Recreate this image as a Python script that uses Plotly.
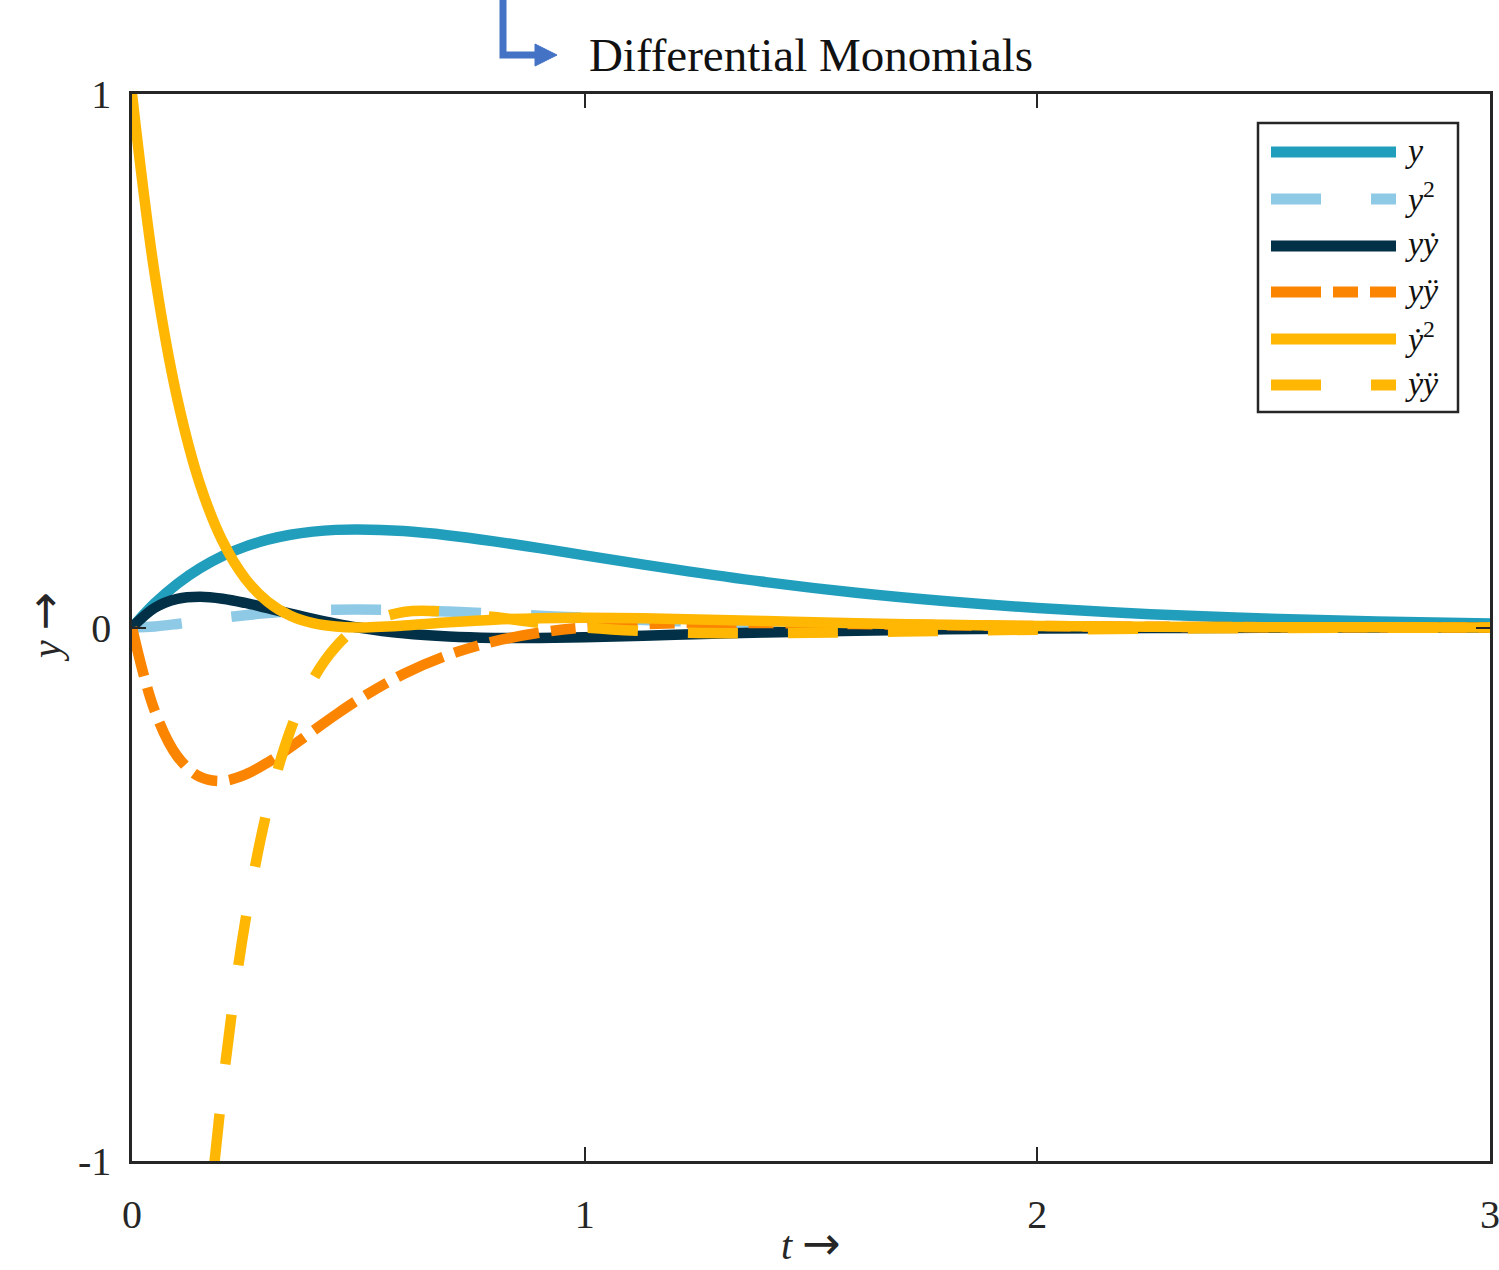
import plotly.graph_objects as go

# ---- data ----
t = [0, 0.05, 0.1, 0.15, 0.2, 0.25, 0.3, 0.35, 0.4, 0.45, 0.5, 0.6, 0.7, 0.8, 0.9,
     1.0, 1.2, 1.4, 1.6, 1.8, 2.0, 2.25, 2.5, 2.75, 3.0]

y_vals = [0, 0.0452, 0.0819, 0.1111, 0.1341, 0.1516, 0.1646, 0.1738, 0.1797, 0.1830,
          0.1839, 0.1807, 0.1726, 0.1615, 0.1488, 0.1353, 0.1089, 0.0851, 0.0652,
          0.0492, 0.0366, 0.0250, 0.0168, 0.0112, 0.0074]

y2_vals = [0, 0.0020, 0.0067, 0.0123, 0.0180, 0.0230, 0.0271, 0.0302, 0.0323, 0.0335,
           0.0338, 0.0327, 0.0298, 0.0261, 0.0221, 0.0183, 0.0119, 0.0072, 0.0043,
           0.0024, 0.0013, 0.0006, 0.0003, 0.0001, 0.0001]

yyd_vals = [0, 0.0368, 0.0536, 0.0576, 0.0539, 0.0460, 0.0361, 0.0259, 0.0162, 0.0074,
            0, -0.0109, -0.0170, -0.0196, -0.0197, -0.0183, -0.0138, -0.0093, -0.0059,
            -0.0035, -0.0020, -0.0010, -0.0005, -0.0002, -0.0001]

yydd_vals = [0, -0.1556, -0.2413, -0.2799, -0.2876, -0.2759, -0.2530, -0.2244, -0.1938,
             -0.1636, -0.1353, -0.0871, -0.0511, -0.0261, -0.0098, 0, 0.0079, 0.0083,
             0.0064, 0.0043, 0.0027, 0.0014, 0.0007, 0.0003, 0.0001]

yd2_vals = [1.0, 0.6632, 0.4290, 0.2689, 0.1618, 0.0920, 0.0482, 0.0222, 0.0081, 0.0017,
            0, 0.0036, 0.0097, 0.0147, 0.0175, 0.0183, 0.0161, 0.0120, 0.0080, 0.0051,
            0.0030, 0.0015, 0.0007, 0.0003, 0.0002]

ydydd_vals = [-4.0, -2.8001, -1.9305, -1.3062, -0.8627, -0.5518, -0.3373, -0.1923, -0.0969,
              -0.0364, 0, 0.0290, 0.0292, 0.0196, 0.0087, 0, -0.0092, -0.0107, -0.0088,
              -0.0062, -0.0040, -0.0022, -0.0011, -0.0005, -0.0002]

series_names = ["<i>y</i>", "<i>y</i><sup>2</sup>", "<i>yẏ</i>", "<i>yÿ</i>",
                "<i>ẏ</i><sup>2</sup>", "<i>ẏÿ</i>"]
series_data = [y_vals, y2_vals, yyd_vals, yydd_vals, yd2_vals, ydydd_vals]
colors = ["#219EBC", "#8ECAE6", "#023047", "#FB8500", "#FFB703", "#FFB703"]
dashes = ["solid", "50px,50px", "solid", "50px,12px,25px,12px", "solid", "50px,50px"]

x_ticks = [0, 1, 2, 3]
y_ticks = [-1, 0, 1]
y_ticktext = ["-1", "0", "1"]

FONT = "Liberation Serif, DejaVu Serif, serif"
W, H = 1499, 1270
ML, MR, MT, MB = 132, 9, 94, 109
PW, PH = W - ML - MR, H - MT - MB


def px(xp):
    return (xp - ML) / PW


def py(yp):
    return (H - MB - yp) / PH


fig = go.Figure()
for name, vals, c, d in zip(series_names, series_data, colors, dashes):
    fig.add_trace(go.Scatter(x=t, y=vals, mode="lines", name=name,
                             line=dict(color=c, width=10.5, dash=d, shape="spline"),
                             showlegend=False))

shapes = []
annotations = []

# custom legend (long line samples like the reference)
shapes.append(dict(type="rect", xref="paper", yref="paper",
                   x0=px(1258), x1=px(1458), y0=py(412), y1=py(123),
                   line=dict(color="#262626", width=2.5), fillcolor="white", layer="above"))
rows = [152, 199, 246, 292, 339, 385]
for name, c, d, r in zip(series_names, colors, dashes, rows):
    shapes.append(dict(type="line", xref="paper", yref="paper",
                       x0=px(1271), x1=px(1396), y0=py(r), y1=py(r),
                       line=dict(color=c, width=11, dash=d), layer="above"))
    annotations.append(dict(xref="paper", yref="paper", x=px(1403), y=py(r - 2),
                            xanchor="left", yanchor="middle", showarrow=False,
                            text=name, font=dict(family=FONT, size=34, color="#111111")))

# blue L-shaped arrow at the top
shapes.append(dict(type="path", xref="paper", yref="paper",
                   path=f"M {px(503)},{py(-10)} L {px(503)},{py(55)} L {px(538)},{py(55)}",
                   line=dict(color="#4472C4", width=7), layer="above"))
shapes.append(dict(type="path", xref="paper", yref="paper",
                   path=f"M {px(535)},{py(44)} L {px(557)},{py(55)} L {px(535)},{py(66)} Z",
                   line=dict(color="#4472C4", width=1), fillcolor="#4472C4", layer="above"))

ARROW = "<span style='font-family:DejaVu Sans;font-size:46px'>→</span>"
# axis labels
annotations.append(dict(xref="paper", yref="paper", x=0.5, y=py(1243),
                        xanchor="center", yanchor="middle", showarrow=False,
                        text="<i>t</i> " + ARROW,
                        font=dict(family=FONT, size=40, color="#262626")))
annotations.append(dict(xref="paper", yref="paper", x=px(44), y=py(627),
                        xanchor="center", yanchor="middle", showarrow=False, textangle=-90,
                        text="<i>y</i> " + ARROW,
                        font=dict(family=FONT, size=40, color="#262626")))

axis_common = dict(showgrid=False, zeroline=False, showline=True, mirror="ticks",
                   automargin=False,
                   linecolor="#262626", linewidth=2.5, ticks="inside", ticklen=14,
                   tickwidth=2, tickcolor="#262626",
                   tickfont=dict(family=FONT, size=40, color="#262626"))

fig.update_layout(
    width=W, height=H,
    margin=dict(l=ML, r=MR, t=MT, b=MB, autoexpand=False),
    paper_bgcolor="white", plot_bgcolor="white",
    title=dict(text="Differential Monomials", x=0.5, xref="paper", xanchor="center",
               y=1 - 55 / H, yanchor="middle", yref="container",
               font=dict(family=FONT, size=47, color="#111111")),
    xaxis=dict(range=[0, 3], tickvals=x_ticks, ticklabelstandoff=16,
               ticklabeloverflow="allow", **axis_common),
    yaxis=dict(range=[-1, 1], tickvals=y_ticks, ticktext=y_ticktext,
               ticklabelstandoff=10, ticklabeloverflow="allow", **axis_common),
    shapes=shapes, annotations=annotations,
    showlegend=False,
)

fig.write_html("out.html", config={"displayModeBar": False},
               post_script="document.body.style.margin='0';")
